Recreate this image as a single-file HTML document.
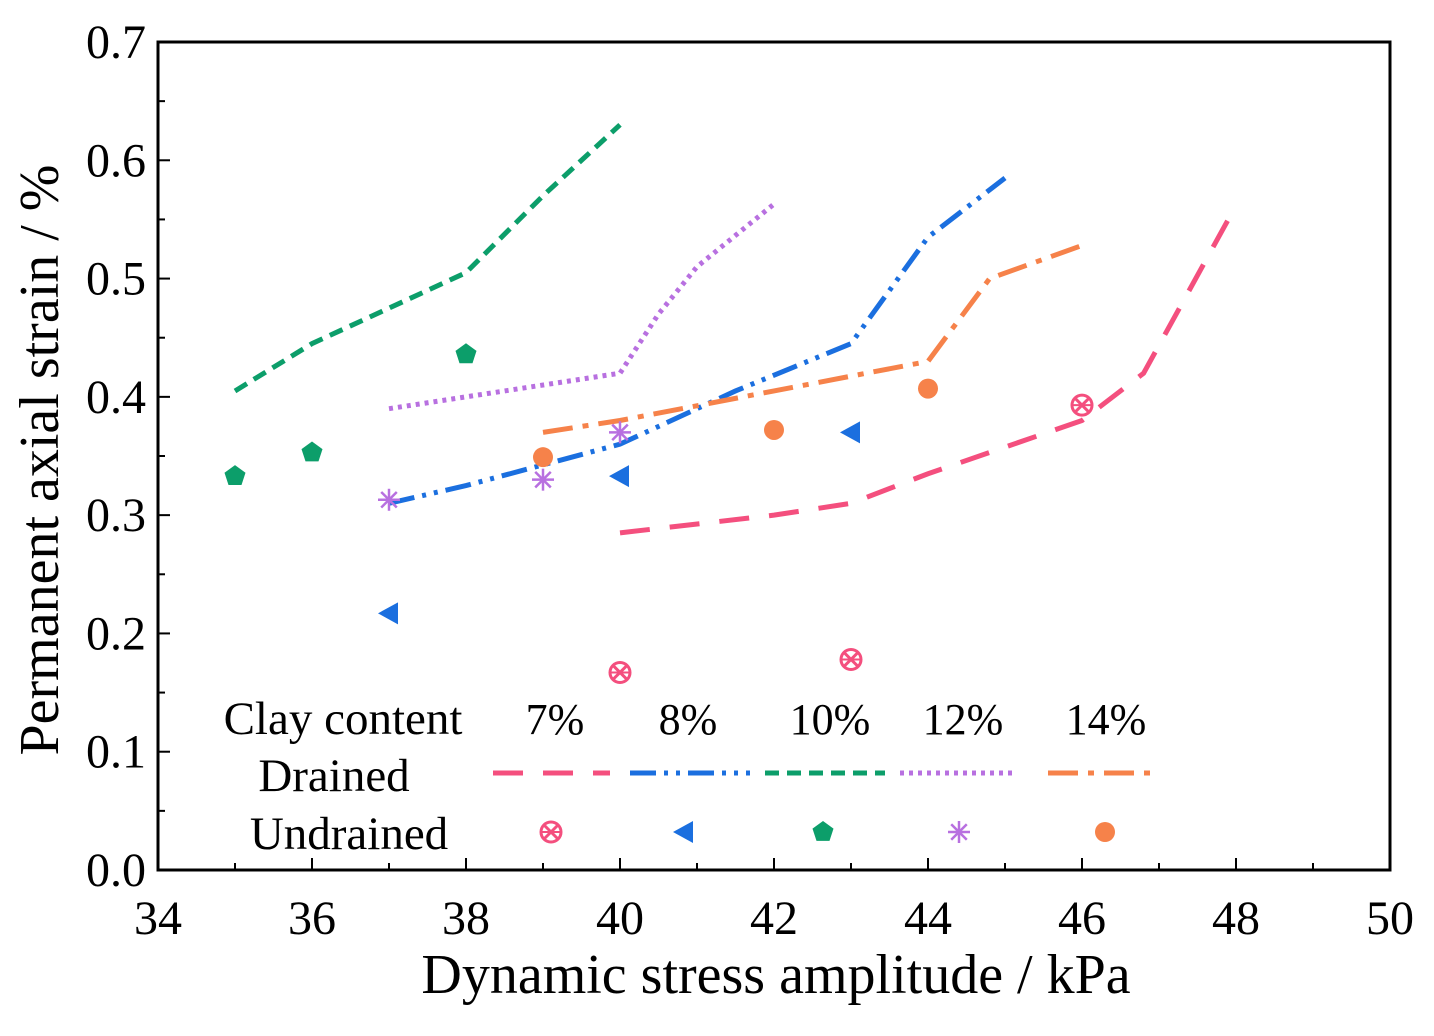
<!DOCTYPE html>
<html><head><meta charset="utf-8"><style>
body{margin:0;background:#fff}
svg text{font-family:"Liberation Serif",serif;fill:#000}
</style></head><body>
<svg id="chart" width="1434" height="1031" xmlns="http://www.w3.org/2000/svg"></svg>
<script>
const xTicks=[34,36,38,40,42,44,46,48,50];
const yTicks=[0.0,0.1,0.2,0.3,0.4,0.5,0.6,0.7];
const seriesNames=["7%","8%","10%","12%","14%"];
const colors=["#f44f7e","#1b6fdf","#0c9e6a","#b870e0","#f6824a"];
const dashes=["30,20","26,8,4,8,4,8","14,8","4,5","30,10,6,10"];
const drX7=[40,42,43,44,46,46.8,47.9], drY7=[0.285,0.30,0.31,0.335,0.38,0.42,0.55];
const drX8=[37,38,40,41.5,43,44,45], drY8=[0.31,0.325,0.36,0.405,0.445,0.535,0.585];
const drX10=[35,36,38,39,40], drY10=[0.405,0.445,0.505,0.57,0.63];
const drX12=[37,40,40.5,41,42], drY12=[0.39,0.42,0.47,0.51,0.563];
const drX14=[39,40,42,44,44.8,46], drY14=[0.37,0.38,0.405,0.43,0.50,0.528];
const unX7=[40,43,46], unY7=[0.167,0.178,0.393];
const unX8=[37,40,43], unY8=[0.217,0.333,0.37];
const unX10=[35,36,38], unY10=[0.333,0.353,0.436];
const unX12=[37,39,40], unY12=[0.313,0.33,0.37];
const unX14=[39,42,44], unY14=[0.349,0.372,0.407];
const drained=[[drX7,drY7],[drX8,drY8],[drX10,drY10],[drX12,drY12],[drX14,drY14]];
const undrained=[[unX7,unY7],[unX8,unY8],[unX10,unY10],[unX12,unY12],[unX14,unY14]];

const X0=158,X1=1390,Y0=870,Y1=42;
const sx=v=>X0+(v-34)/(50-34)*(X1-X0);
const sy=v=>Y0-(v-0)/(0.7)*(Y0-Y1);
const svg=document.getElementById('chart');
const NS="http://www.w3.org/2000/svg";
function mk(tag,attrs,parent){const e=document.createElementNS(NS,tag);for(const k in attrs)e.setAttribute(k,attrs[k]);(parent||svg).appendChild(e);return e;}

let fr=mk('rect',{x:X0,y:Y1,width:X1-X0,height:Y0-Y1,fill:'none',stroke:'#000','stroke-width':3});


for(let v=34;v<=50;v+=1){
  const big=(v%2===0);
  const t=mk('line',{x1:sx(v),x2:sx(v),y1:Y0,y2:Y0-(big?12:7),stroke:'#000','stroke-width':2});
  
  
}
xTicks.forEach(v=>{
  const t=mk('text',{x:sx(v),y:Y0+64,'text-anchor':'middle','font-size':48});
  t.textContent=v;
  
  
});
for(let i=0;i<=14;i++){
  const v=i*0.05,big=(i%2===0);
  const t=mk('line',{x1:X0,x2:X0+(big?12:7),y1:sy(v),y2:sy(v),stroke:'#000','stroke-width':2});
  
  
}
yTicks.forEach(v=>{
  const t=mk('text',{x:X0-12,y:sy(v)+16,'text-anchor':'end','font-size':48});
  t.textContent=v.toFixed(1);
  
  
});
let xt=mk('text',{x:776,y:993,'text-anchor':'middle','font-size':56});
xt.textContent='Dynamic stress amplitude / kPa';


let yt=mk('text',{x:0,y:0,'text-anchor':'middle','font-size':56,transform:`translate(58,460) rotate(-90)`});
yt.textContent='Permanent axial strain / %';



function marker(i,cx,cy,name){
  const g=mk('g',{});
  
  
  const c=colors[i];
  if(i===0){
    mk('circle',{cx,cy,r:10,fill:'none',stroke:c,'stroke-width':3},g);
    mk('line',{x1:cx-7,y1:cy-7,x2:cx+7,y2:cy+7,stroke:c,'stroke-width':3},g);
    mk('line',{x1:cx-7,y1:cy+7,x2:cx+7,y2:cy-7,stroke:c,'stroke-width':3},g);
    mk('line',{x1:cx-10,y1:cy,x2:cx+10,y2:cy,stroke:c,'stroke-width':2},g);
  }else if(i===1){
    mk('polygon',{points:`${cx-11},${cy} ${cx+9},${cy-11} ${cx+9},${cy+11}`,fill:c},g);
  }else if(i===2){
    let p=[];for(let k=0;k<5;k++){const a=-Math.PI/2+k*2*Math.PI/5;p.push((cx+11*Math.cos(a)).toFixed(1)+','+(cy+11*Math.sin(a)).toFixed(1));}
    mk('polygon',{points:p.join(' '),fill:c},g);
  }else if(i===3){
    for(let k=0;k<4;k++){const a=k*Math.PI/4;mk('line',{x1:cx-11*Math.cos(a),y1:cy-11*Math.sin(a),x2:cx+11*Math.cos(a),y2:cy+11*Math.sin(a),stroke:c,'stroke-width':2.5},g);}
  }else{
    mk('circle',{cx,cy,r:10,fill:c},g);
  }
}
drained.forEach((s,i)=>{
  const pts=s[0].map((x,j)=>sx(x)+','+sy(s[1][j])).join(' ');
  const l=mk('polyline',{points:pts,fill:'none',stroke:colors[i],'stroke-width':5,'stroke-dasharray':dashes[i]});
  
  
});
undrained.forEach((s,i)=>{
  s[0].forEach((x,j)=>marker(i,sx(x),sy(s[1][j]),'undrained-point-'+seriesNames[i].replace('%','pct')));
});
const lg=mk('g',{});


const labs=[['Clay content',343,734],['Drained',334,791],['Undrained',349,849]];
labs.forEach(a=>{const t=mk('text',{x:a[1],y:a[2],'text-anchor':'middle','font-size':47},lg);t.textContent=a[0];});
const pc=[555,688,830,963,1106];
const segs=[[493,610],[630,750],[765,885],[900,1015],[1048,1160]];
const mx=[551,684,823,959,1105];
seriesNames.forEach((n,i)=>{
  const t=mk('text',{x:pc[i],y:734,'text-anchor':'middle','font-size':44},lg);t.textContent=n;
  mk('line',{x1:segs[i][0],x2:segs[i][1],y1:773,y2:773,stroke:colors[i],'stroke-width':5,'stroke-dasharray':dashes[i]},lg);
  marker(i,mx[i],832,'legend-marker');
});
</script>
</body></html>
